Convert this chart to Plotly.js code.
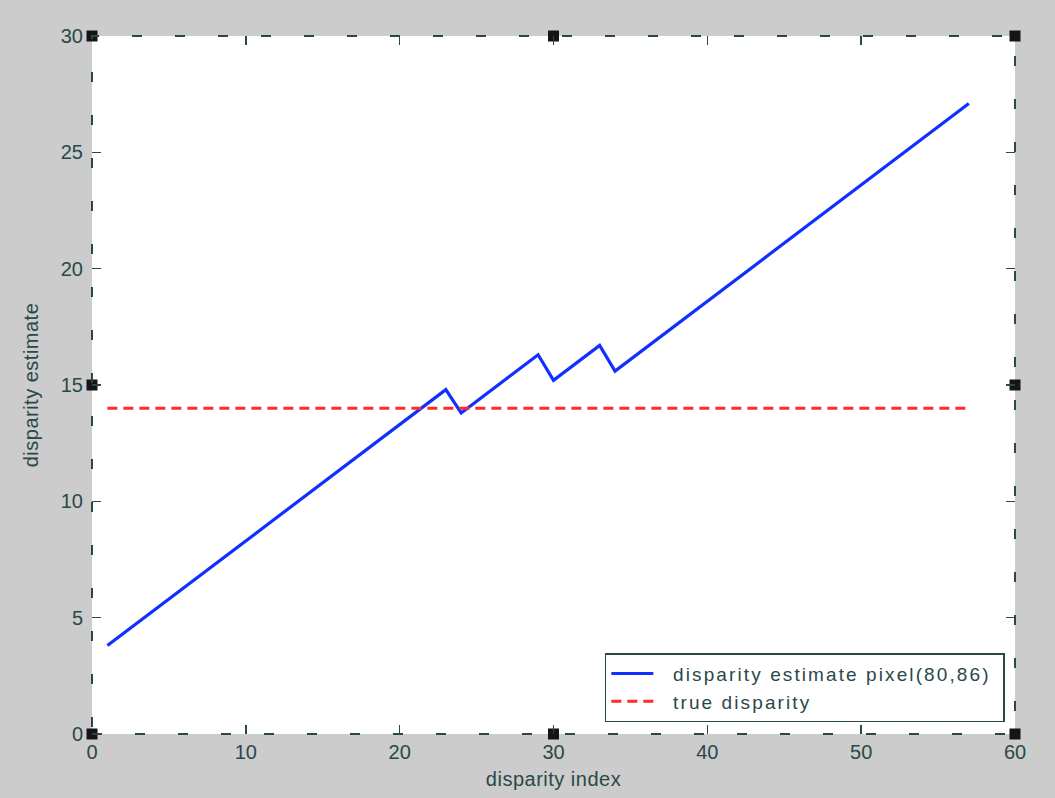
<!DOCTYPE html>
<html>
<head>
<meta charset="utf-8">
<script src="https://cdn.plot.ly/plotly-3.0.1.min.js"></script>
<style>
html,body{margin:0;padding:0;background:#cccccc;}
#chart{width:1055px;height:798px;}
.legendtext{letter-spacing:2.1px;}
.g-xtitle text,.g-ytitle text{letter-spacing:0.5px;}
</style>
</head>
<body>
<div id="chart"></div>
<script>
// disparity index
const disparityIndex = [1,2,3,4,5,6,7,8,9,10,11,12,13,14,15,16,17,18,19,20,21,22,23,24,25,26,27,28,29,30,31,32,33,34,35,36,37,38,39,40,41,42,43,44,45,46,47,48,49,50,51,52,53,54,55,56,57];
// disparity estimate pixel(80,86)
const disparityEstimate = [3.8,4.3,4.8,5.3,5.8,6.3,6.8,7.3,7.8,8.3,8.8,9.3,9.8,10.3,10.8,11.3,11.8,12.3,12.8,13.3,13.8,14.3,14.8,13.8,14.3,14.8,15.3,15.8,16.3,15.2,15.7,16.2,16.7,15.6,16.1,16.6,17.1,17.6,18.1,18.6,19.1,19.6,20.1,20.6,21.1,21.6,22.1,22.6,23.1,23.6,24.1,24.6,25.1,25.6,26.1,26.6,27.1];
// true disparity
const trueIndex = [1,57];
const trueDisparity = [14,14];
// black frame markers at axis corners / midpoints
const frameX = [0,30,60,0,60,0,30,60];
const frameY = [30,30,30,15,15,0,0,0];
const xTicks = [0,10,20,30,40,50,60];
const yTicks = [0,5,10,15,20,25,30];

const txt = '#2a4848';
const fam = '"Liberation Sans", Arial, sans-serif';
const font = {family:fam, size:20, color:txt};
const pad = '\u00a0\u00a0';

const traces = [
  {x:disparityIndex, y:disparityEstimate, mode:'lines', name:pad + 'disparity estimate pixel(80,86)\u00a0',
   line:{color:'#1030ff', width:3.2}},
  {x:trueIndex, y:trueDisparity, mode:'lines', name:pad + 'true disparity',
   line:{color:'#ff2a2a', width:3, dash:'10px,6px'}},
  {x:frameX, y:frameY, mode:'markers', showlegend:false, cliponaxis:false, hoverinfo:'skip',
   marker:{symbol:'square', size:11, color:'#151515'}}
];

const axisCommon = {
  showgrid:false, zeroline:false, showline:false,
  ticks:'inside', ticklen:9, tickwidth:1.5, tickcolor:txt, mirror:'ticks',
  tickfont:font
};

const layout = {
  width:1055, height:798,
  paper_bgcolor:'#cccccc', plot_bgcolor:'#ffffff',
  margin:{l:92, r:40, t:36, b:64},
  font:font,
  showlegend:true,
  legend:{x:0.989, y:0.017, xanchor:'right', yanchor:'bottom',
    bgcolor:'#ffffff', bordercolor:txt, borderwidth:1.5,
    font:{family:fam, size:19, color:txt},
    tracegroupgap:0, itemwidth:42},
  xaxis:Object.assign({}, axisCommon, {range:[0,60], tickvals:xTicks, ticktext:xTicks.map(String),
    ticklabelstandoff:4,
    title:{text:'disparity index', font:font, standoff:9}}),
  yaxis:Object.assign({}, axisCommon, {range:[0,30], tickvals:yTicks, ticktext:yTicks.map(String),
    ticklabelstandoff:8,
    title:{text:'disparity estimate', font:font, standoff:16}}),
  shapes:[
    {type:'rect', xref:'paper', yref:'paper', x0:0, x1:1, y0:0, y1:1,
     line:{color:txt, width:2, dash:'10px,33px'}, layer:'above'}
  ]
};

Plotly.newPlot('chart', traces, layout, {displayModeBar:false, staticPlot:true});
</script>
</body>
</html>
